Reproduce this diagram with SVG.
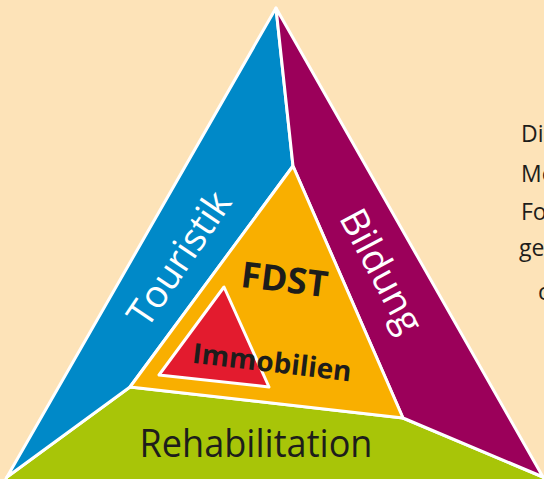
<svg xmlns="http://www.w3.org/2000/svg" width="544" height="479" viewBox="0 0 544 479">
<style>
.seg{stroke:#fff;stroke-width:3;stroke-linejoin:round}
.lbl{font-family:"Open Sans","DejaVu Sans",sans-serif;text-anchor:middle}
.side{font-family:"Open Sans","DejaVu Sans",sans-serif;font-size:23px;fill:#1d1d1b}
</style>
<rect width="544" height="479" fill="#fde3b8"/>
<g id="green"><polygon class="seg" fill="#a8c508" points="7,477 130,387 403,418 543,477 560,510 -10,510"/></g>
<g id="blue"><polygon class="seg" fill="#0089c8" points="276,8 293,166 130,387 7,477"/></g>
<g id="purple"><polygon class="seg" fill="#9b005a" points="276,8 543,477 403,418 293,166"/></g>
<g id="orange"><polygon class="seg" fill="#f9af00" points="293,166 130,387 403,418"/></g>
<g id="red"><polygon class="seg" fill="#e31b2e" points="224,287 159,375 269,387"/></g>
<g id="labels">
<text class="lbl" x="190" y="266" font-size="38" fill="#fff" transform="rotate(-56 190 266)">Touristik</text>
<text class="lbl" x="370" y="277" font-size="38" fill="#fff" transform="rotate(62 370 277)">Bildung</text>
<text class="lbl" x="283" y="292" font-size="36" font-weight="bold" fill="#1d1d1b" transform="rotate(7 283 292)">FDST</text>
<text class="lbl" x="271" y="372" font-size="28" font-weight="bold" fill="#1d1d1b" transform="rotate(6.7 271 372)">Immobilien</text>
<text class="lbl" x="256" y="457" font-size="39" fill="#1d1d1b" textLength="233" lengthAdjust="spacingAndGlyphs">Rehabilitation</text>
</g>
<g id="sidetext">
<text class="side" x="521" y="142">Di</text>
<text class="side" x="521" y="182">Me</text>
<text class="side" x="521" y="220">Fo</text>
<text class="side" x="519" y="256">ge</text>
<text class="side" x="538" y="300">c</text>
</g>
</svg>
